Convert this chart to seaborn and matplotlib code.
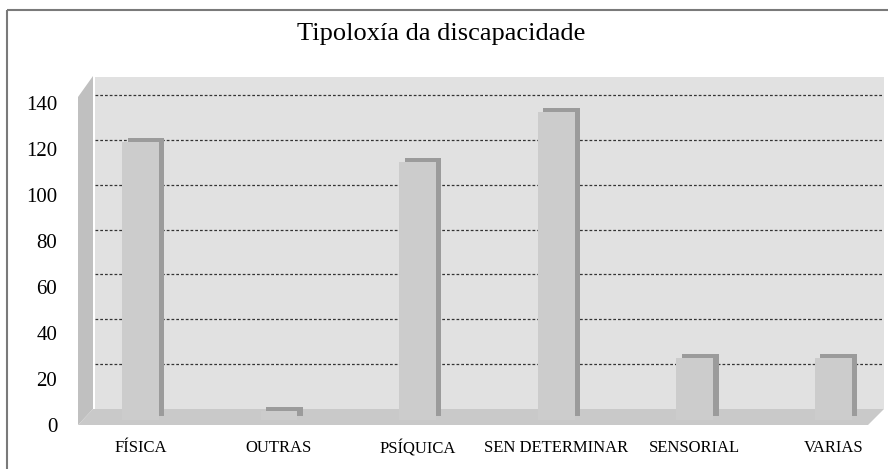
import matplotlib
matplotlib.use("Agg")
import matplotlib.pyplot as plt
import seaborn as sns
from matplotlib.patches import Polygon, Rectangle
from matplotlib.transforms import ScaledTranslation

categories = ["FÍSICA", "OUTRAS", "PSÍQUICA", "SEN DETERMINAR", "SENSORIAL", "VARIAS"]
values = [122, 4, 113, 135, 27, 27]
y_ticks = [0, 20, 40, 60, 80, 100, 120, 140]
title = "Tipoloxía da discapacidade"

sns.set_theme(style="white")
plt.rcParams["font.family"] = ["Liberation Serif", "DejaVu Serif"]

W, H = 888, 469
fig = plt.figure(figsize=(W / 100, H / 100), dpi=100)


def box(left, right, bottom, top):
    # pixel box (y from top) -> figure fraction rect
    return [left / W, 1 - bottom / H, (right - left) / W, (bottom - top) / H]


def fpt(x, y):
    return (x / W, 1 - y / H)


# outer chart border
fig.patches.append(Rectangle(fpt(7, 10), 2, -2, transform=fig.transFigure,
                             fill=False, edgecolor="#7a7a7a", linewidth=1.5, zorder=3))

xlim = (-0.45, 5.25)

# back wall with gridlines
ax_wall = fig.add_axes(box(95, 884, 409, 77))
ax_wall.set_facecolor("#e1e1e1")
ax_wall.set_xlim(xlim)
ax_wall.set_ylim(0, 148)
for v in y_ticks[1:]:
    ax_wall.axhline(v, color="#333333", linewidth=0.9, linestyle=(0, (2.2, 1.6)))
ax_wall.set_xticks([])
ax_wall.set_yticks([])
for s in ax_wall.spines.values():
    s.set_visible(False)
ax_wall.set_zorder(0)

# side wall and floor
side = Polygon([fpt(78, 97), fpt(93, 76), fpt(93, 409), fpt(78, 425)],
               closed=True, transform=fig.transFigure, facecolor="#c0c0c0",
               edgecolor="none", zorder=0.5)
floor = Polygon([fpt(78, 425), fpt(868, 425), fpt(884, 409), fpt(93, 409)],
                closed=True, transform=fig.transFigure, facecolor="#c9c9c9",
                edgecolor="none", zorder=0.5)
fig.patches.extend([side, floor])

# bars: darker back copy shifted, lighter front face
ax_bar = fig.add_axes(box(78, 868, 420, 78))
ax_bar.set_zorder(1)
ax_bar.patch.set_visible(False)
sns.barplot(x=categories, y=values, ax=ax_bar, color="#9b9b9b", saturation=1, width=0.265)
back = list(ax_bar.patches)
shift = ScaledTranslation(5.5 / 100, 4 / 100, fig.dpi_scale_trans)
for p in back:
    p.set_transform(ax_bar.transData + shift)
    p.set_edgecolor("none")
sns.barplot(x=categories, y=values, ax=ax_bar, color="#cccccc", saturation=1, width=0.265)
for p in ax_bar.patches[len(back):]:
    p.set_edgecolor("none")
ax_bar.set_xlim(xlim)
ax_bar.set_ylim(0, 150)
ax_bar.axis("off")

# front plane for the axis labels
ax_front = fig.add_axes(box(78, 868, 425, 80))
ax_front.set_zorder(2)
ax_front.patch.set_visible(False)
ax_front.set_xlim(xlim)
ax_front.set_ylim(0, 150)
ax_front.set_yticks(y_ticks)
ax_front.set_yticklabels([str(v) for v in y_ticks], fontsize=15, color="black")
ax_front.set_xticks(range(len(categories)))
ax_front.set_xticklabels(categories, fontsize=12, color="black")
ax_front.tick_params(axis="y", length=0, pad=15)
ax_front.tick_params(axis="x", length=0, pad=11)
for s in ax_front.spines.values():
    s.set_visible(False)

fig.text(441 / W, 1 - 34 / H, title, ha="center", va="center", fontsize=19, color="black")

fig.savefig("out.png", dpi=100)
